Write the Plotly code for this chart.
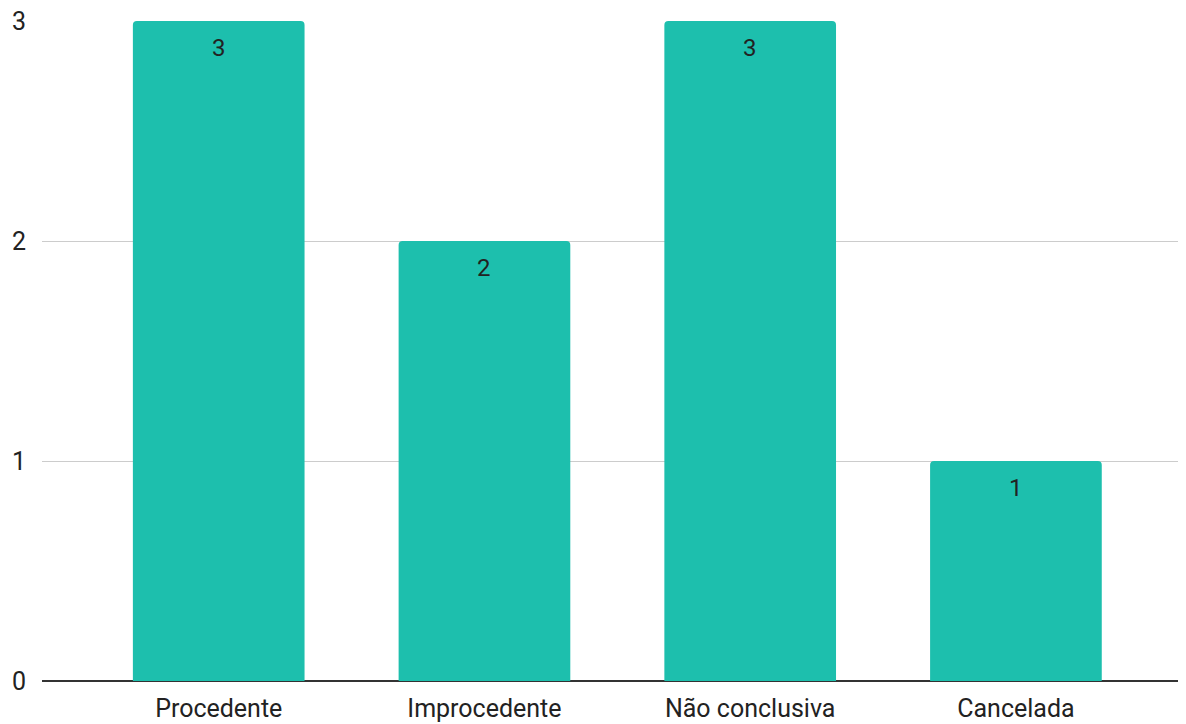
import plotly.graph_objects as go

categories = ["Procedente", "Improcedente", "Não conclusiva", "Cancelada"]
values = [3, 2, 3, 1]
y_ticks = [0, 1, 2, 3]

fig = go.Figure(go.Bar(
    x=categories, y=values,
    marker=dict(color="#1DBFAD", cornerradius=4, line=dict(width=0)),
    width=0.646,
))
for c, v in zip(categories, values):
    fig.add_annotation(x=c, y=v, text=str(v), showarrow=False, yanchor="top", yshift=-11,
                       font=dict(family="Roboto", size=24, color="#222222"))
fig.update_layout(
    width=1186, height=724,
    margin=dict(l=34, r=8, t=13, b=51),
    paper_bgcolor="white", plot_bgcolor="white",
    font=dict(family="Roboto", size=25, color="#222222"),
    showlegend=False,
)
fig.update_xaxes(range=[-0.665, 3.64], showgrid=False, showline=False, ticks="", tickfont=dict(size=25),
                 ticklabelstandoff=10, automargin=False)
fig.update_yaxes(range=[0, 3], tickvals=y_ticks, showgrid=True, gridcolor="#CCCCCC", gridwidth=1.3,
                 zeroline=True, zerolinecolor="#333333", zerolinewidth=1.5, ticks="", ticklabelstandoff=15,
                 ticklabeloverflow="allow", tickfont=dict(size=25), automargin=False)
fig.write_html("out.html")
